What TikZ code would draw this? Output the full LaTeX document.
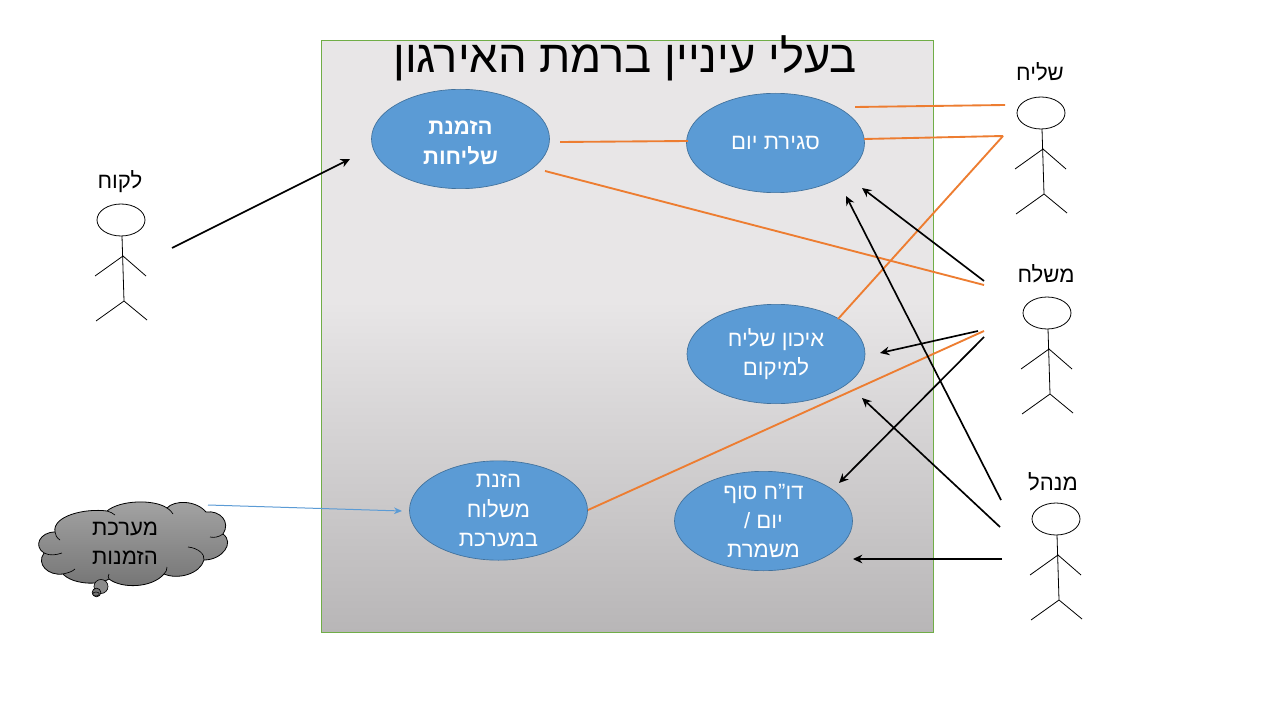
\documentclass[tikz,border=0pt]{standalone}
\usepackage{fontspec}
\setmainfont[Script=Hebrew]{Liberation Sans}
\TeXXeTstate=1
\usetikzlibrary{arrows.meta,shapes.geometric}
\definecolor{orangeline}{HTML}{ED7D31}
\definecolor{bluefill}{HTML}{5B9BD5}
\definecolor{blueedge}{HTML}{41719C}
\definecolor{boxedge}{HTML}{70AD47}
\definecolor{bb}{HTML}{B8B6B7}
\definecolor{tt}{HTML}{E8E6E7}
\definecolor{cb}{HTML}{747474}
\definecolor{ct}{HTML}{A4A4A4}
\pgfdeclareverticalshading{boxshade}{100bp}{
  color(0bp)=(bb);
  color(25bp)=(bb);
  color(53bp)=(tt);
  color(100bp)=(tt)}
\pgfdeclareverticalshading{cloudshade}{100bp}{
  color(0bp)=(cb);
  color(25bp)=(cb);
  color(75bp)=(ct);
  color(100bp)=(ct)}
\newcommand\heb[1]{\beginR #1\endR}
\tikzset{
  x=0.75pt,y=-0.75pt,
  usecase/.style={ellipse,draw=blueedge,line width=0.5pt,fill=bluefill,text=white,
    minimum width=133.5pt,minimum height=74.5pt,inner sep=-12pt,align=center,
    font=\fontsize{16.6}{22}\selectfont},
  caption/.style={text=black,align=center,inner sep=0pt,font=\fontsize{16.6}{22}\selectfont},
  orangelink/.style={draw=orangeline,line width=1.4pt},
  blacklink/.style={draw=black,line width=1.25pt,-{Stealth[length=7pt,width=6.5pt]}},
  bluelink/.style={draw=bluefill,line width=0.75pt,-{Stealth[length=6pt,width=5pt]}},
  limb/.style={draw=black,line width=0.6pt},
  pics/actor/.style={code={
    \node[ellipse,draw=black,line width=0.6pt,minimum width=36pt,minimum height=24pt,inner sep=0pt] (#1) at (0,0) {};
    \draw[limb] (1,16) -- (3,81) (-26,56) -- (2,36) -- (25,56) (-25,101) -- (3,81) -- (26,100);
  }}
}
\begin{document}
\begin{tikzpicture}
\useasboundingbox (0,0) rectangle (1280,720);
\fill[white] (0,0) rectangle (1280,720);

% system box
\path[shading=boxshade] (321,41) rectangle (933,632);
\draw[boxedge,line width=0.75pt] (321,41) rectangle (933,632);
\node[caption,font=\fontsize{34}{38}\selectfont] (title) at (625,58) {\heb{בעלי עיניין ברמת האירגון}};

% use cases
\node[usecase,font=\fontsize{16.6}{22}\selectfont\bfseries] (order) at (460.5,139) {\rule{0pt}{16pt}\heb{הזמנת}\\\heb{שליחות}};
\node[usecase] (close) at (775.5,143) {\heb{סגירת יום}};
\node[usecase] (locate) at (776,354) {\heb{איכון שליח}\\\heb{למיקום}};
\node[usecase] (report) at (763.5,521) {\heb{דו"ח סוף}\\\heb{יום /}\\\heb{משמרת}};
\node[usecase] (enter) at (498.5,510.5) {\heb{הזנת}\\\heb{משלוח}\\\heb{במערכת}};

% actors
\pic at (121,220) {actor=customer};
\pic at (1041,113) {actor=courier};
\pic at (1047,313) {actor=dispatcher};
\pic at (1056,519) {actor=manager};
\node[caption] (lcustomer) at (120,182) {\heb{לקוח}};
\node[caption] (lcourier) at (1040,72) {\heb{שליח}};
\node[caption] (ldispatcher) at (1046,274) {\heb{משלח}};
\node[caption] (lmanager) at (1053,482) {\heb{מנהל}};

% cloud
\path[shading=cloudshade,draw=black,line width=0.6pt]
  (55,532) .. controls (40,532) and (33,546) .. (44,553)
  .. controls (36,564) and (48,576) .. (63,574)
  .. controls (72,584) and (98,586) .. (109,579)
  .. controls (122,589) and (152,588) .. (164,574)
  .. controls (178,580) and (200,574) .. (204,560)
  .. controls (222,560) and (235,543) .. (223,534)
  .. controls (231,522) and (220,510) .. (206,512)
  .. controls (196,500) and (174,500) .. (167,508)
  .. controls (154,499) and (120,500) .. (107,511)
  .. controls (85,508) and (52,516) .. (55,532) -- cycle;
\draw[black,line width=0.5pt]
  (55,532) .. controls (55,535) and (57,538) .. (60,540)
  (44,553) .. controls (50,556) and (56,555) .. (62,553)
  (63,574) .. controls (67,573) and (72,572) .. (75,569)
  (109,579) .. controls (108,577) and (108,576) .. (109,574)
  (164,574) .. controls (166,572) and (167,570) .. (167,567)
  (204,560) .. controls (205,554) and (198,548) .. (188,547)
  (223,534) .. controls (219,537) and (214,538) .. (210,537)
  (167,508) .. controls (170,510) and (172,512) .. (173,514)
  (107,511) .. controls (110,512) and (113,513) .. (115,515);
\node[circle,minimum size=10.5pt,inner sep=0pt,draw=black,line width=0.5pt,fill=ct!85!black] (bubbleA) at (101,586.5) {};
\node[circle,minimum size=6.5pt,inner sep=0pt,draw=black,line width=0.5pt,fill=cb] (bubbleB) at (96.5,592.5) {};
\node[ellipse,minimum width=5pt,minimum height=3pt,inner sep=0pt,draw=black,line width=0.4pt,fill=ct!70!black] (bubbleC) at (96,594) {};
\node[caption] (cloudtext) at (125,543.5) {\heb{מערכת}\\\heb{הזמנות}};

% anchor points of the connectors
\coordinate (fromcustomer) at (172,248);
\coordinate (toorder) at (350,159);
\coordinate (cloudout) at (208,505);
\coordinate (toenter) at (402,511);
\coordinate (orderright) at (560,142);
\coordinate (closeleft) at (688,141);
\coordinate (orderlow) at (545,171);
\coordinate (dispatchA) at (984,285);
\coordinate (closetop) at (855,107);
\coordinate (courierA) at (1005,105);
\coordinate (closeright) at (864,139);
\coordinate (courierB) at (1003,136);
\coordinate (locatetop) at (838,319);
\coordinate (enterright) at (588,510);
\coordinate (dispatchB) at (984,331);
\coordinate (dispatchC) at (984,281);
\coordinate (toclosea) at (862,188);
\coordinate (managerA) at (1001,500);
\coordinate (tocloseb) at (846,196);
\coordinate (dispatchD) at (978,331);
\coordinate (tolocatea) at (880,353);
\coordinate (dispatchE) at (984,337);
\coordinate (toreporta) at (839,483);
\coordinate (managerB) at (1000,527);
\coordinate (tolocateb) at (862,398);
\coordinate (managerC) at (1002,559);
\coordinate (toreportb) at (853,559);

% connectors
\draw[orangelink] (orderright) -- (closeleft);
\draw[orangelink] (orderlow) -- (dispatchA);
\draw[orangelink] (closetop) -- (courierA);
\draw[orangelink] (closeright) -- (courierB);
\draw[orangelink] (locatetop) -- (courierB);
\draw[orangelink] (enterright) -- (dispatchB);
\draw[blacklink] (fromcustomer) -- (toorder);
\draw[blacklink] (dispatchC) -- (toclosea);
\draw[blacklink] (managerA) -- (tocloseb);
\draw[blacklink] (dispatchD) -- (tolocatea);
\draw[blacklink] (dispatchE) -- (toreporta);
\draw[blacklink] (managerB) -- (tolocateb);
\draw[blacklink] (managerC) -- (toreportb);
\draw[bluelink] (cloudout) -- (toenter);
\end{tikzpicture}
\end{document}
